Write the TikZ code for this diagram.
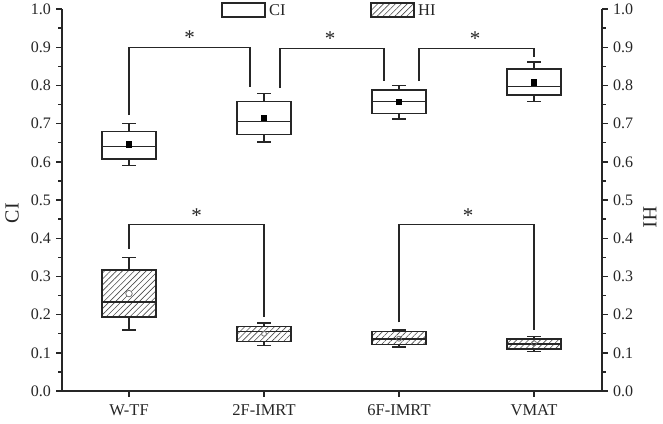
\documentclass[tikz,border=0pt]{standalone}
\usepackage{fontspec}
\setmainfont{Liberation Serif}
\usetikzlibrary{patterns.meta}
\newcommand\bxp[8]{% x, lo, q1, med, q3, hi, fill style, name
  \draw[bx] (#1,#2) -- (#1,#3) (#1,#5) -- (#1,#6);
  \draw[bx] (#1-7,#2) -- (#1+7,#2) (#1-7,#6) -- (#1+7,#6);
  \draw[bx,#7] (#1-27,#3) rectangle (#1+27,#5);
  \draw[bx] (#1-27,#4) -- (#1+27,#4);
  \coordinate (#8) at (#1,#6);
}
\begin{document}
\begin{tikzpicture}[x=1pt,y=382pt,
  ax/.style={line width=1.4pt, draw=black!85},
  bx/.style={line width=1.3pt, draw=black!85},
  br/.style={line width=1.1pt, draw=black!85},
  hatch/.style={pattern={Lines[angle=45,distance=4.2pt,line width=0.6pt]}, pattern color=black!70},
  plain/.style={fill=white},
  tl/.style={font=\fontsize{16}{16}\selectfont, text=black!85, inner sep=0pt},
  cat/.style={font=\fontsize{16.5}{16}\selectfont, text=black!85, inner sep=0pt},
  ttl/.style={font=\fontsize{20}{20}\selectfont, text=black!85, inner sep=0pt},
  star/.style={font=\fontsize{21}{21}\selectfont, text=black!85, inner sep=0pt},
  cimean/.style={fill=black, minimum size=6.5pt, inner sep=0pt},
  himean/.style={draw=black!55, fill=white, line width=0.8pt, circle, minimum size=6.5pt, inner sep=0pt},
]
\useasboundingbox (-62,-0.0838) rectangle (601,1.0236);
% axes
\draw[ax] (0,1) -- (0,0) -- (540,0) -- (540,1);
\foreach \t [count=\k from 0] in {0.0,0.1,0.2,0.3,0.4,0.5,0.6,0.7,0.8,0.9,1.0}{
  \draw[ax] (0,\t) -- (-6,\t);
  \draw[ax] (540,\t) -- (546,\t);
  \node[tl, anchor=east] (ltl\k) at (-11,\t) {\t};
  \node[tl, anchor=west] (rtl\k) at (551,\t) {\t};
}
\foreach \i in {0,...,9}{
  \pgfmathsetmacro\v{\i/10+0.05}
  \draw[ax] (0,\v) -- (-3.5,\v);
  \draw[ax] (540,\v) -- (543.5,\v);
}
% category ticks and labels
\foreach \x/\t [count=\k] in {67/W-TF,202/2F-IMRT,337/6F-IMRT,472/VMAT}{
  \draw[ax] (\x,0) -- (\x,-0.016);
  \node[cat] (cat\k) at (\x,-0.05) {\t};
}
% axis titles
\node[ttl, rotate=90] (ytl) at (-50,0.466) {CI};
\node[ttl, rotate=-90] (ytr) at (588,0.455) {HI};
% legend
\draw[bx, plain] (160,0.979) rectangle (203,1.0157);
\node[cat, anchor=west] (lgci) at (207,0.997) {CI};
\draw[bx, hatch] (309,0.979) rectangle (352,1.0157);
\node[cat, anchor=west] (lghi) at (356,0.997) {HI};
% CI boxes
\bxp{67}{0.59}{0.607}{0.641}{0.68}{0.70}{plain}{c1}
\bxp{202}{0.652}{0.672}{0.705}{0.757}{0.778}{plain}{c2}
\bxp{337}{0.712}{0.727}{0.757}{0.788}{0.80}{plain}{c3}
\bxp{472}{0.757}{0.775}{0.798}{0.843}{0.861}{plain}{c4}
\node[cimean] (cm1) at (67,0.645) {};
\node[cimean] (cm2) at (202,0.715) {};
\node[cimean] (cm3) at (337,0.757) {};
\node[cimean] (cm4) at (472,0.808) {};
% HI boxes
\bxp{67}{0.16}{0.194}{0.233}{0.317}{0.35}{hatch}{h1}
\bxp{202}{0.12}{0.13}{0.155}{0.168}{0.178}{hatch}{h2}
\bxp{337}{0.115}{0.122}{0.136}{0.155}{0.16}{hatch}{h3}
\bxp{472}{0.103}{0.11}{0.123}{0.136}{0.142}{hatch}{h4}
\node[himean] (hm1) at (67,0.255) {};
\node[himean, minimum size=5pt, fill=none] (hm2) at (202,0.15) {};
\node[himean, minimum size=5pt, fill=none] (hm3) at (337,0.137) {};
\node[himean, minimum size=5pt, fill=none] (hm4) at (472,0.125) {};
% brackets CI
\coordinate (b1l) at (67,0.7225); \coordinate (b1lt) at (67,0.90);
\coordinate (b1rt) at (188,0.90); \coordinate (b1r) at (188,0.796);
\draw[br] (b1l) -- (b1lt) -- (b1rt) -- (b1r);
\node[star] (s1) at (127.5,0.925) {*};
\coordinate (b2l) at (218,0.793); \coordinate (b2lt) at (218,0.896);
\coordinate (b2rt) at (322,0.896); \coordinate (b2r) at (322,0.8115);
\draw[br] (b2l) -- (b2lt) -- (b2rt) -- (b2r);
\node[star] (s2) at (268,0.922) {*};
\coordinate (b3l) at (357,0.8115); \coordinate (b3lt) at (357,0.896);
\coordinate (b3rt) at (472,0.896); \coordinate (b3r) at (472,0.874);
\draw[br] (b3l) -- (b3lt) -- (b3rt) -- (b3r);
\node[star] (s3) at (413,0.922) {*};
% brackets HI
\coordinate (b4l) at (67,0.372); \coordinate (b4lt) at (67,0.437);
\coordinate (b4rt) at (202,0.437); \coordinate (b4r) at (202,0.194);
\draw[br] (b4l) -- (b4lt) -- (b4rt) -- (b4r);
\node[star] (s4) at (134.5,0.459) {*};
\coordinate (b5l) at (337,0.18); \coordinate (b5lt) at (337,0.437);
\coordinate (b5rt) at (472,0.437); \coordinate (b5r) at (472,0.16);
\draw[br] (b5l) -- (b5lt) -- (b5rt) -- (b5r);
\node[star] (s5) at (406,0.459) {*};
\end{tikzpicture}
\end{document}
